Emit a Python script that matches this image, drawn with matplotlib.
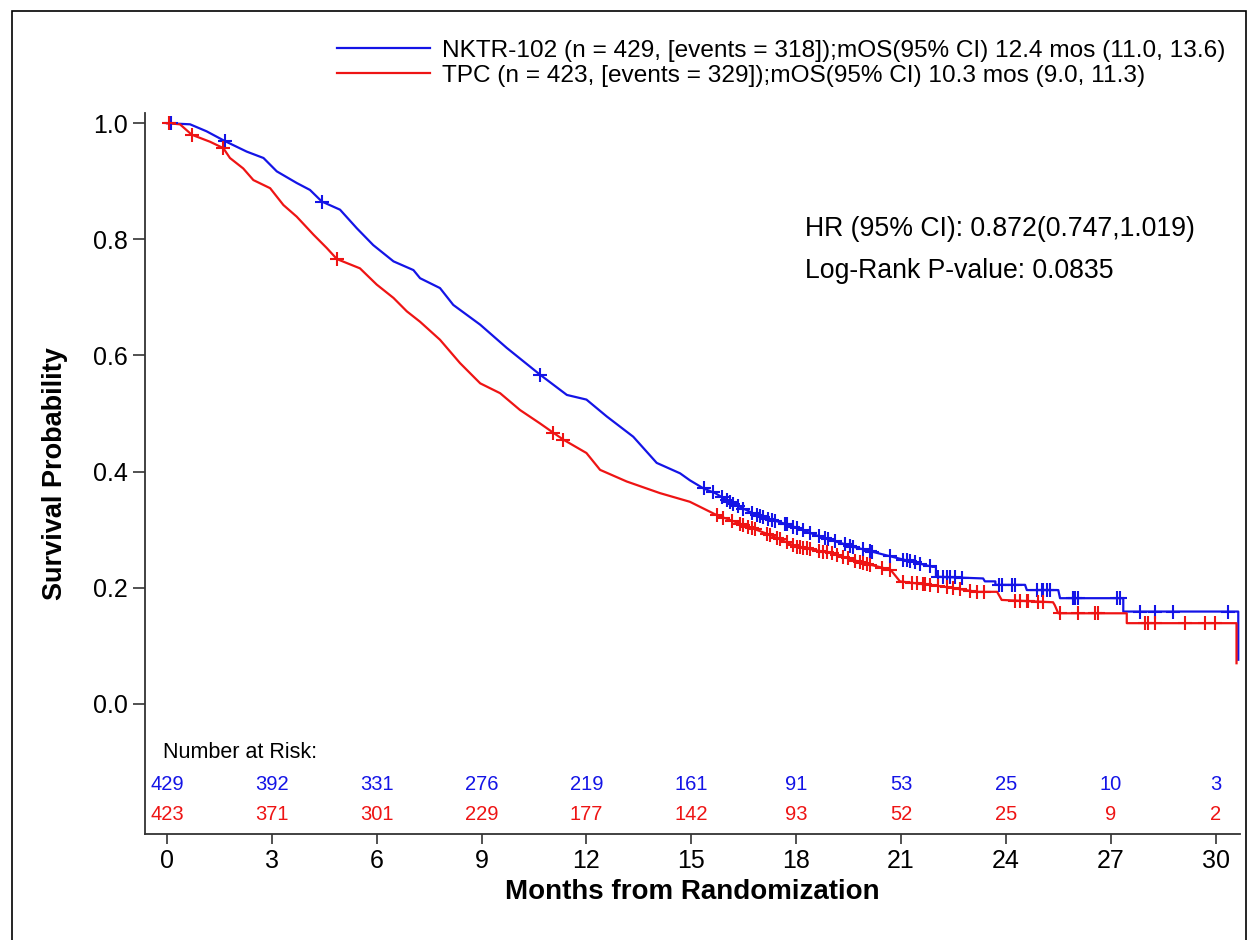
import numpy as np
import matplotlib
matplotlib.use("Agg")
import matplotlib.pyplot as plt
from matplotlib.patches import Rectangle

plt.rcParams['font.family'] = ['Liberation Sans', 'DejaVu Sans']

# Kaplan-Meier curve (months, survival);
# repeated times mark the visible vertical drops in the tail
nktr_t = [0, 0.66, 1.13, 1.66, 2.28, 2.76, 3.14, 3.71, 4.09, 4.43, 4.95, 5.43, 5.9, 6.48,
          7.05, 7.24, 7.81, 8.19, 8.96, 9.72, 10.67, 11.44, 12.0, 12.58, 13.34,
          14.01, 14.68, 14.96, 15.35, 15.68, 16.1, 16.87, 17.8, 18.77, 19.73, 20.7,
          21.9, 22.0, 22.0, 23.35, 23.4, 23.7, 23.7, 24.55, 24.6, 25.5, 25.55,
          27.36, 27.36, 30.65, 30.65]
nktr_s = [1.0, 0.998, 0.986, 0.969, 0.951, 0.940, 0.917, 0.897, 0.885, 0.865, 0.851,
          0.819, 0.790, 0.762, 0.747, 0.733, 0.716, 0.687, 0.653, 0.613, 0.567,
          0.532, 0.524, 0.495, 0.460, 0.415, 0.397, 0.385, 0.371, 0.363, 0.348, 0.325,
          0.308, 0.286, 0.269, 0.254, 0.236, 0.236, 0.219, 0.216, 0.211, 0.211, 0.205,
          0.205, 0.196, 0.196, 0.182, 0.182, 0.159, 0.159, 0.076]

tpc_t = [0, 0.37, 0.71, 1.23, 1.61, 1.8, 2.18, 2.47, 2.95, 3.33, 3.71, 4.19, 4.57, 4.86,
         5.52, 6.0, 6.48, 6.86, 7.24, 7.81, 8.38, 8.96, 9.53, 10.1, 10.67, 11.05, 11.34,
         12.0, 12.39, 13.15, 14.1, 14.96, 15.73, 16.5, 17.25, 18.0, 18.97, 19.9, 20.7,
         20.97, 22.2, 23.17, 23.75, 23.88, 25.35, 25.4, 25.5, 27.46, 27.46, 30.6, 30.6]
tpc_s = [1.0, 0.998, 0.980, 0.968, 0.957, 0.940, 0.922, 0.902, 0.888, 0.859, 0.839,
         0.808, 0.785, 0.766, 0.750, 0.722, 0.699, 0.676, 0.658, 0.627, 0.587, 0.552,
         0.535, 0.506, 0.483, 0.467, 0.455, 0.432, 0.403, 0.383, 0.363, 0.348, 0.325,
         0.308, 0.291, 0.271, 0.260, 0.243, 0.231, 0.211, 0.202, 0.193, 0.193, 0.179,
         0.175, 0.170, 0.156, 0.156, 0.139, 0.139, 0.070]

# censoring times
nktr_cens = [0.1, 1.66, 4.43, 10.67, 15.35, 15.63, 15.87, 16.01, 16.11, 16.2, 16.35,
             16.49, 16.73, 16.87, 16.97, 17.06, 17.2, 17.3, 17.4, 17.68, 17.73, 17.92,
             18.02, 18.21, 18.4, 18.64, 18.83, 18.92, 19.11, 19.4, 19.54, 19.64, 19.92,
             20.11, 20.16, 20.69, 21.07, 21.16, 21.26, 21.4, 21.55, 21.83, 22.07, 22.21,
             22.31, 22.4, 22.55, 22.74, 23.79, 23.88, 24.17, 24.26, 24.88, 25.03, 25.07,
             25.17, 25.26, 25.93, 25.97, 26.07, 27.17, 27.27, 27.84, 28.27, 28.77, 30.37]
tpc_cens = [0.05, 0.71, 1.61, 4.86, 11.05, 11.34, 15.73, 15.92, 16.16, 16.39, 16.49,
            16.63, 16.73, 16.82, 17.16, 17.25, 17.45, 17.54, 17.73, 17.92, 18.02, 18.11,
            18.21, 18.3, 18.4, 18.64, 18.78, 18.88, 19.02, 19.16, 19.35, 19.49, 19.69,
            19.83, 19.92, 20.02, 20.11, 20.45, 20.69, 21.07, 21.31, 21.45, 21.64, 21.69,
            21.83, 22.07, 22.31, 22.5, 22.69, 22.98, 23.17, 23.38, 24.26, 24.41, 24.6,
            24.64, 24.93, 25.07, 25.55, 26.07, 26.55, 26.65, 27.98, 28.08, 28.27, 29.13,
            29.7, 29.99]

risk_times = [0, 3, 6, 9, 12, 15, 18, 21, 24, 27, 30]
nktr_risk = [429, 392, 331, 276, 219, 161, 91, 53, 25, 10, 3]
tpc_risk = [423, 371, 301, 229, 177, 142, 93, 52, 25, 9, 2]

nktr_label = "NKTR-102 (n = 429, [events = 318]);mOS(95% CI) 12.4 mos (11.0, 13.6)"
tpc_label = "TPC (n = 423, [events = 329]);mOS(95% CI) 10.3 mos (9.0, 11.3)"

BLUE = '#1414e6'
RED = '#ee1414'

fig = plt.figure(figsize=(12.48, 9.4), dpi=100)
ax = fig.add_axes([0.1162, 0.1128, 0.8774, 0.7673])

ax.plot(nktr_t, nktr_s, color=BLUE, lw=1.6, label=nktr_label)
ax.plot(tpc_t, tpc_s, color=RED, lw=1.6, label=tpc_label)
ax.plot(nktr_cens, np.interp(nktr_cens, nktr_t, nktr_s), ls='none', marker='+',
        ms=10, mew=1.5, color=BLUE)
ax.plot(tpc_cens, np.interp(tpc_cens, tpc_t, tpc_s), ls='none', marker='+',
        ms=10, mew=1.5, color=RED)

ax.set_xlim(-0.63, 30.7)
ax.set_ylim(-0.224, 1.018)
ax.set_xticks(risk_times)
ax.set_yticks([0.0, 0.2, 0.4, 0.6, 0.8, 1.0])
ax.set_yticklabels(['0.0', '0.2', '0.4', '0.6', '0.8', '1.0'])
ax.tick_params(direction='out', length=7.5, width=1.2, labelsize=18, pad=3,
               color='#333333')
ax.tick_params(axis='y', length=8.5, pad=4)
for s in ['top', 'right']:
    ax.spines[s].set_visible(False)
for s in ['left', 'bottom']:
    ax.spines[s].set_linewidth(1.3)
    ax.spines[s].set_color('#333333')

ax.set_xlabel('Months from Randomization', fontsize=20, fontweight='bold', va='center')
ax.xaxis.set_label_coords(0.5, -0.081)
ax.set_ylabel('Survival Probability', fontsize=19.5, fontweight='bold', va='center')
ax.yaxis.set_label_coords(-0.082, 0.5)

ax.text(18.25, 0.818, 'HR (95% CI): 0.872(0.747,1.019)', fontsize=19.2, va='center')
ax.text(18.25, 0.746, 'Log-Rank P-value: 0.0835', fontsize=19.2, va='center')

ax.text(-0.12, -0.084, 'Number at Risk:', fontsize=15.5, va='center')
for t, a, b in zip(risk_times, nktr_risk, tpc_risk):
    ax.text(t, -0.138, str(a), color=BLUE, fontsize=14.5, ha='center', va='center')
    ax.text(t, -0.191, str(b), color=RED, fontsize=14.5, ha='center', va='center')

fig.legend(loc='upper right', bbox_to_anchor=(0.99, 0.968), frameon=False,
           fontsize=17.6, handlelength=3.8, handletextpad=0.5, labelspacing=0.1,
           borderaxespad=0)

fig.patches.append(Rectangle((12 / 1248, -0.01), 1234 / 1248, 0.998, transform=fig.transFigure,
                             fill=False, edgecolor='black', lw=1.2))

fig.savefig('out.png', dpi=100)
